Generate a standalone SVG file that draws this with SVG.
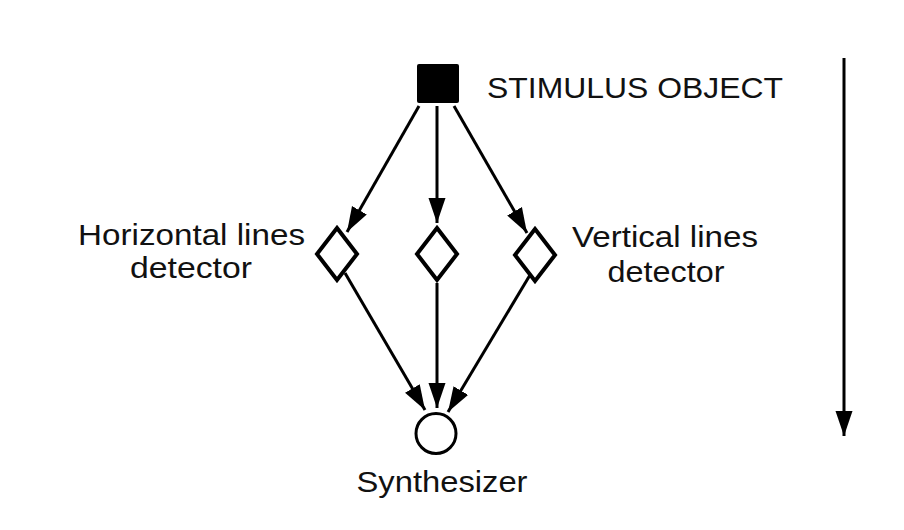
<svg xmlns="http://www.w3.org/2000/svg" width="904" height="530" viewBox="0 0 904 530">
<defs>
<marker id="ah" markerUnits="userSpaceOnUse" markerWidth="25" markerHeight="18" refX="25" refY="9" orient="auto">
<path d="M0,0.5 L25,9 L0,17.5 Z" fill="#000"/>
</marker>
<style>
.lbl{font-family:"Liberation Sans",Arial,sans-serif;font-size:29px;fill:#111}
.c{stroke:#000;stroke-width:3;fill:none}
</style>
</defs>
<rect width="904" height="530" fill="#fff"/>
<g id="stimulus">
<rect x="417" y="64" width="42" height="39" rx="2" fill="#000"/>
<text class="lbl" x="487" y="98" textLength="296" lengthAdjust="spacingAndGlyphs">STIMULUS OBJECT</text>
</g>
<g id="horizontal-detector">
<path d="M337,228 L357,254 L337,280 L317,254 Z" fill="#fff" stroke="#000" stroke-width="4" stroke-linejoin="miter"/>
<text class="lbl" x="191.5" y="245" text-anchor="middle" textLength="227" lengthAdjust="spacingAndGlyphs">Horizontal lines</text>
<text class="lbl" x="191" y="278" text-anchor="middle" textLength="122" lengthAdjust="spacingAndGlyphs">detector</text>
</g>
<g id="middle-detector">
<path d="M437,228 L457,254 L437,280 L417,254 Z" fill="#fff" stroke="#000" stroke-width="4"/>
</g>
<g id="vertical-detector">
<path d="M535,229 L555,255 L535,281 L515,255 Z" fill="#fff" stroke="#000" stroke-width="4"/>
<text class="lbl" x="665" y="247" text-anchor="middle" textLength="186" lengthAdjust="spacingAndGlyphs">Vertical lines</text>
<text class="lbl" x="666" y="282" text-anchor="middle" textLength="117" lengthAdjust="spacingAndGlyphs">detector</text>
</g>
<g id="synthesizer">
<circle cx="436" cy="433.5" r="20" fill="#fff" stroke="#000" stroke-width="3"/>
<text class="lbl" x="442" y="492" text-anchor="middle" textLength="171" lengthAdjust="spacingAndGlyphs">Synthesizer</text>
</g>
<g id="connectors">
<line class="c" x1="419" y1="106" x2="347" y2="232" marker-end="url(#ah)"/>
<line class="c" x1="437" y1="106" x2="437" y2="223" marker-end="url(#ah)"/>
<line class="c" x1="454" y1="106" x2="527" y2="233" marker-end="url(#ah)"/>
<line class="c" x1="345" y1="273" x2="425" y2="410" marker-end="url(#ah)"/>
<line class="c" x1="437" y1="283" x2="437" y2="408" marker-end="url(#ah)"/>
<line class="c" x1="530" y1="275" x2="448" y2="412" marker-end="url(#ah)"/>
<line class="c" x1="844" y1="58" x2="844" y2="436" marker-end="url(#ah)"/>
</g>
</svg>
